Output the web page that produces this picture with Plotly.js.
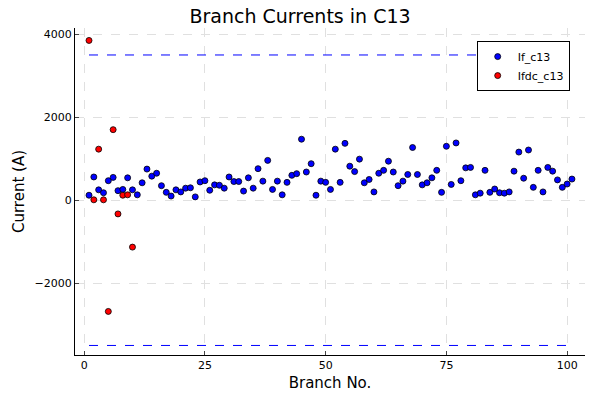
<!DOCTYPE html>
<html>
<head>
<script src="https://cdn.plot.ly/plotly-3.0.1.min.js"></script>
<style>body{margin:0}</style>
</head>
<body>
<div id="plot" style="width:600px;height:400px"></div>
<script>
// Branch currents
let if_c13 = [120, 560, 250, 180, 470, 550, 230, 260, 540, 250,
  130, 420, 750, 580, 650, 350, 190, 100, 250, 200,
  290, 300, 80, 440, 470, 240, 370, 360, 290, 560,
  450, 450, 220, 540, 290, 760, 460, 960, 260, 460,
  130, 430, 600, 640, 1470, 680, 880, 120, 460, 430,
  260, 1230, 430, 1370, 820, 690, 990, 420, 500, 200,
  650, 720, 940, 680, 350, 460, 620, 1270, 620, 370,
  420, 540, 720, 190, 1300, 380, 1380, 470, 780, 790,
  130, 170, 720, 190, 270, 180, 170, 200, 700, 1160,
  530, 1210, 310, 720, 200, 790, 700, 490, 310, 390, 510];
let ifdc_c13 = [3850, 10, 1230, 10, -2680, 1700, -330, 120, 130, -1130];
let limit = 3500;

let branches = if_c13.map((x, i) => i + 1);
let dc_branches = ifdc_c13.map((x, i) => i + 1);
let nb = branches.length;

let font = {family: 'DejaVu Sans, sans-serif', color: '#000'};

let data = [
  {
    x: [1, nb, null, 1, nb], y: [limit, limit, null, -limit, -limit], mode: 'lines', type: 'scatter',
    line: {color: '#0000ff', dash: 'dash', width: 1}, showlegend: false, hoverinfo: 'none'
  },
  {
    x: branches, y: if_c13, name: 'If_c13', mode: 'markers', type: 'scatter',
    marker: {color: 'blue', size: 6, line: {color: '#000', width: 0.8}}
  },
  {
    x: dc_branches, y: ifdc_c13, name: 'Ifdc_c13', mode: 'markers', type: 'scatter',
    marker: {color: 'red', size: 6, line: {color: '#000', width: 0.8}}
  }
];

let axis = {
  showline: true, linecolor: '#000', mirror: false, zeroline: false,
  gridcolor: '#e0e0e0', griddash: 'dash', ticks: 'inside', ticklen: 4,
  tickfont: Object.assign({size: 11}, font)
};

let layout = {
  title: {text: 'Branch Currents in C13', x: 0.5, y: 0.975, font: Object.assign({size: 19}, font)},
  xaxis: Object.assign({}, axis, {
    title: {text: 'Branch No.', font: Object.assign({size: 15}, font), standoff: 6},
    range: [-1.9, 103.7], tickvals: [0, 25, 50, 75, 100]
  }),
  yaxis: Object.assign({}, axis, {
    title: {text: 'Current (A)', font: Object.assign({size: 15}, font), standoff: 6},
    range: [-3730, 4150], tickvals: [-2000, 0, 2000, 4000],
    ticktext: ['\u22122000', '0', '2000', '4000']
  }),
  legend: {
    x: 0.97, y: 0.96, xanchor: 'right', yanchor: 'top',
    bordercolor: '#000', borderwidth: 1, bgcolor: '#fff',
    itemwidth: 30, tracegroupgap: 0,
    font: Object.assign({size: 11}, font)
  },
  margin: {l: 75, r: 15, t: 28, b: 45},
  plot_bgcolor: '#fff', paper_bgcolor: '#fff'
};

Plotly.newPlot('plot', data, layout, {displayModeBar: false});
</script>
</body>
</html>
